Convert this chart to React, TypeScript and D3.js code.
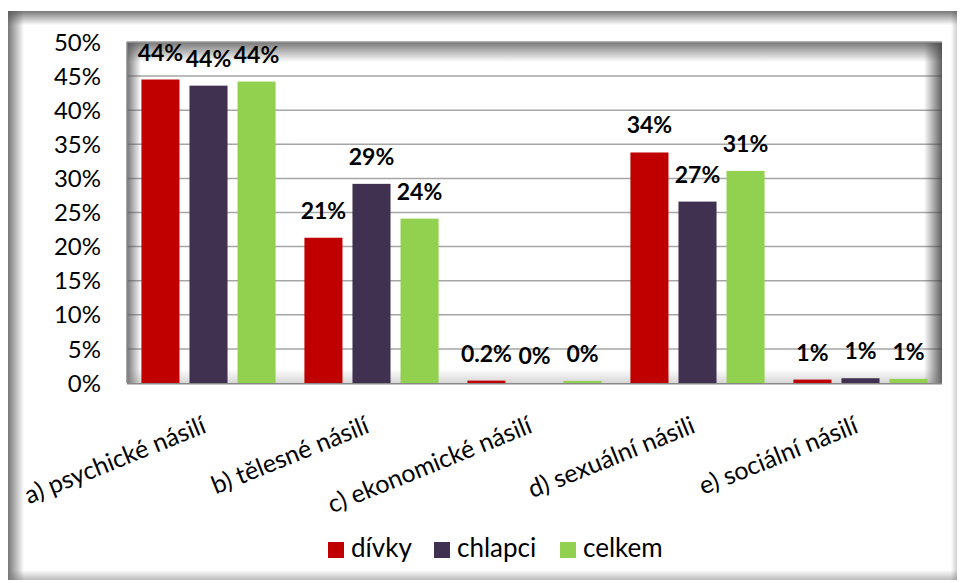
import React, { useEffect, useRef } from "react";
import * as d3 from "d3";

// categories and series
const categories = [
  "a) psychické násilí",
  "b) tělesné násilí",
  "c) ekonomické násilí",
  "d) sexuální násili",
  "e) sociální násilí",
];
const seriesNames = ["dívky", "chlapci", "celkem"];
const divky = [44.5, 21.3, 0.35, 33.8, 0.5];
const chlapci = [43.6, 29.2, 0, 26.6, 0.7];
const celkem = [44.2, 24.1, 0.3, 31.1, 0.6];
const divkyLabels = ["44%", "21%", "0.2%", "34%", "1%"];
const chlapciLabels = ["44%", "29%", "0%", "27%", "1%"];
const celkemLabels = ["44%", "24%", "0%", "31%", "1%"];
const yTicks = [0, 5, 10, 15, 20, 25, 30, 35, 40, 45, 50];
const colors = ["#C00000", "#403151", "#92D050"];

const FONT = "Lato, 'Open Sans', sans-serif";

const App: React.FC = () => {
  const ref = useRef<SVGSVGElement | null>(null);

  useEffect(() => {
    const width = 960;
    const height = 583;
    const plot = { left: 127, top: 42, right: 942, bottom: 383 };

    const root = d3.select(ref.current);
    root.selectAll("*").remove();
    root.attr("width", width).attr("height", height);

    const defs = root.append("defs");
    const grad = (id: string, x1: number, y1: number, x2: number, y2: number, c: string, o: number) => {
      const g = defs
        .append("linearGradient")
        .attr("id", id)
        .attr("x1", x1)
        .attr("y1", y1)
        .attr("x2", x2)
        .attr("y2", y2);
      g.append("stop").attr("offset", 0).attr("stop-color", c).attr("stop-opacity", o);
      g.append("stop").attr("offset", 1).attr("stop-color", c).attr("stop-opacity", 0);
    };
    grad("shTop", 0, 0, 0, 1, "#555", 0.8);
    grad("shLeft", 0, 0, 1, 0, "#555", 0.8);
    grad("shRight", 1, 0, 0, 0, "#444", 0.85);
    grad("shBottom", 0, 1, 0, 0, "#777", 0.5);

    // outer frame
    const frame = { left: 8, top: 11, right: 957, bottom: 580 };
    root
      .append("rect")
      .attr("x", frame.left)
      .attr("y", frame.top)
      .attr("width", frame.right - frame.left)
      .attr("height", frame.bottom - frame.top)
      .attr("fill", "#fff");
    root.append("rect").attr("x", frame.left).attr("y", frame.top)
      .attr("width", frame.right - frame.left).attr("height", 14).attr("fill", "url(#shTop)");
    root.append("rect").attr("x", frame.left).attr("y", frame.top)
      .attr("width", 16).attr("height", frame.bottom - frame.top).attr("fill", "url(#shLeft)");
    root.append("rect").attr("x", frame.left).attr("y", frame.bottom - 10)
      .attr("width", frame.right - frame.left).attr("height", 10).attr("fill", "url(#shBottom)");
    root.append("rect").attr("x", frame.right - 6).attr("y", frame.top)
      .attr("width", 6).attr("height", frame.bottom - frame.top).attr("fill", "url(#shRight)")
      .attr("opacity", 0.3);

    // scales
    const x0 = d3
      .scaleBand<string>()
      .domain(categories)
      .range([plot.left, plot.right])
      .padding(0);
    const x1 = d3
      .scaleBand<string>()
      .domain(seriesNames)
      .range([0, x0.bandwidth()])
      .paddingInner(0.208)
      .paddingOuter(0.3);
    const y = d3.scaleLinear().domain([0, 50]).range([plot.bottom, plot.top]);

    const g = root.append("g");

    // gridlines
    g.selectAll(".grid")
      .data(yTicks.filter((t) => t > 0 && t < 50))
      .enter()
      .append("line")
      .attr("x1", plot.left)
      .attr("x2", plot.right)
      .attr("y1", (d) => y(d))
      .attr("y2", (d) => y(d))
      .attr("stroke", "#a6a6a6")
      .attr("stroke-width", 1.5);

    // plot area inner shadows
    g.append("rect").attr("x", plot.left).attr("y", plot.top)
      .attr("width", plot.right - plot.left).attr("height", 20).attr("fill", "url(#shTop)");
    g.append("rect").attr("x", plot.left).attr("y", plot.top)
      .attr("width", 14).attr("height", plot.bottom - plot.top).attr("fill", "url(#shLeft)");
    g.append("rect").attr("x", plot.right - 18).attr("y", plot.top)
      .attr("width", 18).attr("height", plot.bottom - plot.top).attr("fill", "url(#shRight)");
    g.append("rect").attr("x", plot.left).attr("y", plot.bottom - 14)
      .attr("width", plot.right - plot.left).attr("height", 14).attr("fill", "url(#shBottom)")
      .attr("opacity", 0.6);
    g.append("line").attr("x1", plot.left).attr("x2", plot.right)
      .attr("y1", plot.top).attr("y2", plot.top)
      .attr("stroke", "#999").attr("stroke-width", 1.5);

    // axis lines
    g.append("line").attr("x1", plot.left).attr("x2", plot.right)
      .attr("y1", plot.bottom + 0.75).attr("y2", plot.bottom + 0.75)
      .attr("stroke", "#888").attr("stroke-width", 1.5);
    g.append("line").attr("x1", plot.left).attr("x2", plot.left)
      .attr("y1", plot.top).attr("y2", plot.bottom)
      .attr("stroke", "#888").attr("stroke-width", 1.5);

    // bars
    const series = [
      { name: seriesNames[0], values: divky, labels: divkyLabels },
      { name: seriesNames[1], values: chlapci, labels: chlapciLabels },
      { name: seriesNames[2], values: celkem, labels: celkemLabels },
    ];
    series.forEach((s, si) => {
      const rows = categories.map((c, i) => ({ c, v: s.values[i], l: s.labels[i] }));
      g.selectAll(`.bar${si}`)
        .data(rows)
        .enter()
        .append("rect")
        .attr("x", (d) => (x0(d.c) ?? 0) + (x1(s.name) ?? 0))
        .attr("y", (d) => y(d.v))
        .attr("width", x1.bandwidth())
        .attr("height", (d) => plot.bottom - y(d.v))
        .attr("fill", colors[si]);
      g.selectAll(`.lab${si}`)
        .data(rows)
        .enter()
        .append("text")
        .attr("x", (d) => (x0(d.c) ?? 0) + (x1(s.name) ?? 0) + x1.bandwidth() / 2)
        .attr("y", (d) => y(d.v) - 19)
        .attr("text-anchor", "middle")
        .style("font-family", FONT)
        .style("font-size", "23px")
        .style("font-weight", "bold")
        .attr("fill", "#000")
        .text((d) => d.l);
    });

    // y tick labels
    g.selectAll(".ytick")
      .data(yTicks)
      .enter()
      .append("text")
      .attr("x", 101)
      .attr("y", (d) => y(d))
      .attr("dy", "0.36em")
      .attr("text-anchor", "end")
      .style("font-family", FONT)
      .style("font-size", "24px")
      .attr("fill", "#000")
      .text((d) => `${d}%`);

    // category labels, rotated
    g.selectAll(".xlab")
      .data(categories)
      .enter()
      .append("text")
      .attr(
        "transform",
        (d) => `translate(${(x0(d) ?? 0) + x0.bandwidth() / 2 - 1},432) rotate(-22)`
      )
      .attr("text-anchor", "end")
      .style("font-family", FONT)
      .style("font-size", "25px")
      .attr("fill", "#000")
      .text((d) => d);

    // legend
    const legendX = [328, 434, 560];
    const lg = g.append("g");
    seriesNames.forEach((n, i) => {
      lg.append("rect")
        .attr("x", legendX[i])
        .attr("y", 542)
        .attr("width", 16)
        .attr("height", 16)
        .attr("fill", colors[i]);
      lg.append("text")
        .attr("x", legendX[i] + 23)
        .attr("y", 557)
        .style("font-family", FONT)
        .style("font-size", "26px")
        .attr("fill", "#000")
        .text(n);
    });
  }, []);

  return <svg ref={ref} style={{ position: "absolute", left: 0, top: 0 }}></svg>;
};

export default App;
